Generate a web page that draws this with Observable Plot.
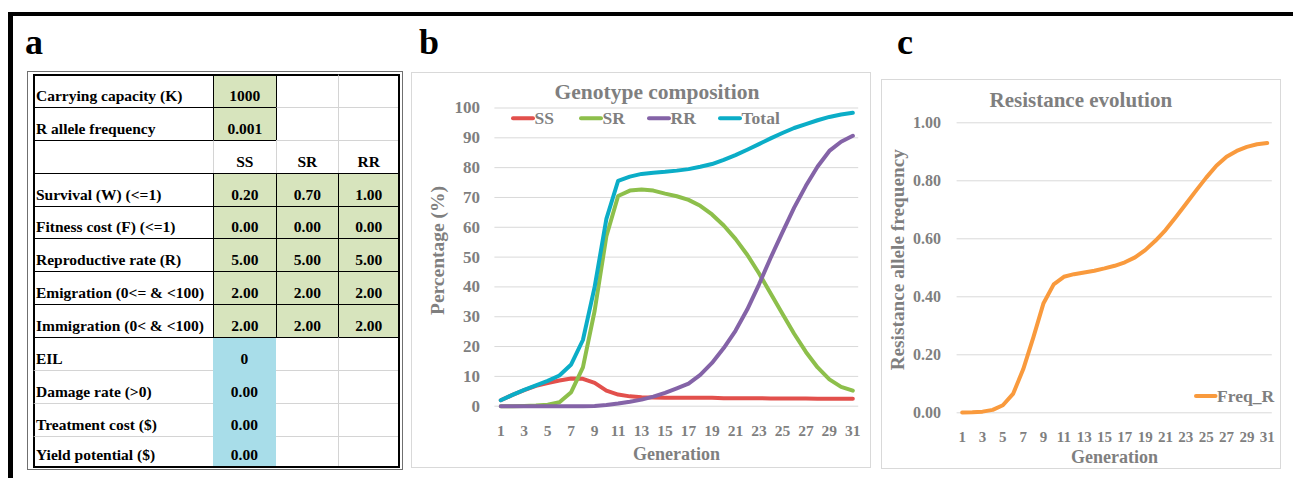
<!DOCTYPE html>
<html><head><meta charset="utf-8">
<script src="https://cdn.jsdelivr.net/npm/d3@7"></script>
<script src="https://cdn.jsdelivr.net/npm/@observablehq/plot@0.6"></script>
<style>
html,body{margin:0;padding:0;background:#fff;}
#root{position:relative;width:1293px;height:478px;overflow:hidden;font-family:"Liberation Serif","Times New Roman",serif;}
.cell{box-sizing:border-box;display:flex;align-items:flex-end;font-weight:bold;font-size:15.5px;color:#000;padding-bottom:2px;white-space:nowrap;overflow:hidden;}
</style></head><body><div id="root"></div>
<script>
// ---------- data ----------
const generations = d3.range(1, 32);
const SS = [2.0, 3.8, 5.4, 6.8, 7.8, 8.6, 9.3, 9.2, 7.8, 5.2, 3.9, 3.3, 3.0, 2.9, 2.8, 2.8, 2.8, 2.8, 2.8, 2.7, 2.7, 2.7, 2.7, 2.6, 2.6, 2.6, 2.6, 2.5, 2.5, 2.5, 2.5];
const SR = [0, 0, 0.1, 0.2, 0.5, 1.3, 4.7, 13.0, 32.0, 57.0, 70.5, 72.3, 72.7, 72.3, 71.3, 70.4, 69.2, 67.2, 64.3, 60.6, 56.1, 50.8, 44.6, 37.8, 31.0, 24.3, 18.2, 13.0, 9.0, 6.5, 5.2];
const RR = [0, 0, 0, 0, 0, 0, 0, 0, 0.1, 0.4, 0.9, 1.5, 2.2, 3.2, 4.5, 6.0, 7.6, 10.5, 14.5, 19.5, 25.3, 32.4, 40.8, 49.8, 58.3, 66.6, 73.9, 80.4, 85.6, 88.7, 90.7];
const Total = [2.0, 3.8, 5.5, 7.0, 8.5, 10.3, 14.0, 22.2, 40.0, 62.8, 75.6, 77.0, 77.9, 78.3, 78.6, 79.0, 79.5, 80.3, 81.2, 82.6, 84.2, 86.0, 87.9, 89.8, 91.6, 93.3, 94.6, 95.9, 97.0, 97.8, 98.4];
const freqR = [0.001, 0.002, 0.004, 0.010, 0.026, 0.065, 0.150, 0.260, 0.378, 0.443, 0.469, 0.478, 0.484, 0.490, 0.498, 0.507, 0.519, 0.536, 0.561, 0.593, 0.630, 0.674, 0.720, 0.766, 0.811, 0.852, 0.883, 0.903, 0.917, 0.926, 0.930];

const seriesNames = ["SS", "SR", "RR", "Total"];
const seriesValues = [SS, SR, RR, Total];
const seriesColors = ["#e2504c", "#8dbf4b", "#8463a7", "#0badc7"];
const freqName = "Freq_R";
const freqColor = "#f99a3d";

const percentTicks = [0, 10, 20, 30, 40, 50, 60, 70, 80, 90, 100];
const freqTicks = [0, 0.2, 0.4, 0.6, 0.8, 1.0];
const genTicks = [1, 3, 5, 7, 9, 11, 13, 15, 17, 19, 21, 23, 25, 27, 29, 31];

const tableLabels = ["Carrying capacity (K)", "R allele frequency", "", "Survival (W) (<=1)", "Fitness cost (F) (<=1)", "Reproductive rate (R)", "Emigration (0<= & <100)", "Immigration (0< & <100)", "EIL", "Damage rate (>0)", "Treatment cost ($)", "Yield potential ($)"];
const tableValues = [["1000", "", ""], ["0.001", "", ""], ["SS", "SR", "RR"], ["0.20", "0.70", "1.00"], ["0.00", "0.00", "0.00"], ["5.00", "5.00", "5.00"], ["2.00", "2.00", "2.00"], ["2.00", "2.00", "2.00"], ["0", "", ""], ["0.00", "", ""], ["0.00", "", ""], ["0.00", "", ""]];
const rowKinds = ["single", "single", "header", "triple", "triple", "triple", "triple", "triple", "econ", "econ", "econ", "econ"];

// ---------- layout ----------
const root = document.getElementById("root");
const FONT = '"Liberation Serif","Times New Roman",serif';
const GRAY = "#7f7f7f";

function div(style) { const d = document.createElement("div"); d.setAttribute("style", "position:absolute;" + style); root.appendChild(d); return d; }

// outer black frame
div("left:7.5px;top:12px;width:1300px;height:480px;border-top:4px solid #000;border-left:5px solid #000;");

// ---------- panel a: table ----------
div("left:27px;top:70.5px;width:373.5px;height:397.5px;border:1px solid #707070;");
const colW = [180, 62.7, 62.3, 60.5];
const grid = div(`left:33px;top:74px;display:grid;grid-template-columns:${colW.map(w => w + "px").join(" ")};grid-template-rows:repeat(11,32.9px) 30.6px;border-right:2px solid #000;border-bottom:2px solid #000;`);
function fillOf(r, c) {
  const k = rowKinds[r];
  if (c === 0) return null;
  if (k === "single") return c === 1 ? "#d7e4bd" : null;
  if (k === "triple") return "#d7e4bd";
  if (k === "econ") return c === 1 ? "#a8dde9" : null;
  return null;
}
function boxed(r, c) {
  if (r < 0 || c < 0) return false;
  const k = rowKinds[r];
  if (k === "triple") return true;
  if (k === "single") return c <= 1;
  return false;
}
function isBlue(r, c) { return r >= 0 && rowKinds[r] === "econ" && c === 1; }
function edge(aR, aC, bR, bC) {
  if (boxed(aR, aC) || boxed(bR, bC)) return "1px solid #000";
  if (isBlue(aR, aC) || isBlue(bR, bC)) return "none";
  return "1px solid #d4d4d4";
}
for (let r = 0; r < tableLabels.length; r++) {
  for (let c = 0; c < 4; c++) {
    const d = document.createElement("div");
    d.className = "cell";
    d.style.borderTop = r === 0 ? "2px solid #000" : edge(r - 1, c, r, c);
    d.style.borderLeft = c === 0 ? "2px solid #000" : edge(r, c - 1, r, c);
    const bg = fillOf(r, c);
    if (bg) d.style.background = bg;
    if (c === 0) { d.style.justifyContent = "flex-start"; d.style.paddingLeft = "1px"; d.textContent = tableLabels[r]; }
    else { d.style.justifyContent = "center"; d.textContent = tableValues[r][c - 1]; }
    grid.appendChild(d);
  }
}

// ---------- panel b ----------
const frameB = div("left:411px;top:72px;width:460px;height:396px;box-sizing:border-box;border:1px solid #d9d9d9;");
const compRows = seriesNames.flatMap((s, i) => generations.map((g, j) => ({generation: g, series: s, value: seriesValues[i][j]})));
const chartB = Plot.plot({
  width: 458, height: 394,
  marginLeft: 82.4, marginRight: 11.8, marginTop: 34.5, marginBottom: 61.3,
  x: {type: "linear", domain: [0.5, 31.5]},
  y: {type: "linear", domain: [0, 100]},
  color: {domain: seriesNames, range: seriesColors},
  style: {fontFamily: FONT, fontWeight: "bold", color: GRAY, background: "none", overflow: "visible"},
  marks: [
    Plot.gridY(percentTicks, {stroke: "#d9d9d9", strokeOpacity: 1, strokeWidth: 1}),
    Plot.axisY(percentTicks, {tickSize: 0, tickPadding: 15, fontSize: 17, label: null}),
    Plot.axisX(genTicks, {tickSize: 0, tickPadding: 19, fontSize: 15.5, label: null}),
    Plot.line(compRows, {x: "generation", y: "value", z: "series", stroke: "series", strokeWidth: 4, strokeLinejoin: "round", strokeLinecap: "round"})
  ]
});
chartB.style.position = "absolute"; chartB.style.left = "0px"; chartB.style.top = "0px";
frameB.appendChild(chartB);

// ---------- panel c ----------
const frameC = div("left:881px;top:79px;width:400px;height:390px;box-sizing:border-box;border:1px solid #d9d9d9;");
const freqRows = generations.map((g, i) => ({generation: g, value: freqR[i]}));
const chartC = Plot.plot({
  width: 398, height: 388,
  marginLeft: 74.6, marginRight: 8.2, marginTop: 42.3, marginBottom: 55.7,
  x: {type: "linear", domain: [0.5, 31.5]},
  y: {type: "linear", domain: [0, 1]},
  style: {fontFamily: FONT, fontWeight: "bold", color: GRAY, background: "none", overflow: "visible"},
  marks: [
    Plot.gridY(freqTicks, {stroke: "#d9d9d9", strokeOpacity: 1, strokeWidth: 1}),
    Plot.axisY(freqTicks, {tickSize: 0, tickPadding: 16, fontSize: 16, label: null, tickFormat: d3.format(".2f")}),
    Plot.axisX(genTicks, {tickSize: 0, tickPadding: 18.5, fontSize: 15, label: null}),
    Plot.line(freqRows, {x: "generation", y: "value", stroke: freqColor, strokeWidth: 4, strokeLinejoin: "round", strokeLinecap: "round"})
  ]
});
chartC.style.position = "absolute"; chartC.style.left = "0px"; chartC.style.top = "0px";
frameC.appendChild(chartC);

// ---------- overlay texts & legends ----------
const NS = "http://www.w3.org/2000/svg";
const ov = document.createElementNS(NS, "svg");
ov.setAttribute("width", 1293); ov.setAttribute("height", 478);
ov.setAttribute("style", "position:absolute;left:0;top:0;pointer-events:none;");
root.appendChild(ov);
function t(x, y, s, size, opts = {}) {
  const e = document.createElementNS(NS, "text");
  e.setAttribute("x", x); e.setAttribute("y", y);
  e.setAttribute("font-family", FONT); e.setAttribute("font-weight", "bold");
  e.setAttribute("font-size", size);
  e.setAttribute("fill", opts.fill || GRAY);
  e.setAttribute("text-anchor", opts.anchor || "start");
  if (opts.rotate) e.setAttribute("transform", `rotate(${opts.rotate} ${x} ${y})`);
  e.textContent = s; ov.appendChild(e); return e;
}
function l(x1, x2, y, color) {
  const e = document.createElementNS(NS, "line");
  e.setAttribute("x1", x1); e.setAttribute("x2", x2); e.setAttribute("y1", y); e.setAttribute("y2", y);
  e.setAttribute("stroke", color); e.setAttribute("stroke-width", 4); e.setAttribute("stroke-linecap", "round");
  ov.appendChild(e);
}
// panel letters
t(25, 54, "a", 36, {fill: "#000"});
t(419, 54, "b", 36, {fill: "#000"});
t(897, 54, "c", 36, {fill: "#000"});
// panel b titles
t(657, 98.5, "Genotype composition", 21.5, {anchor: "middle"});
t(444, 250.5, "Percentage (%)", 19.5, {anchor: "middle", rotate: -90});
t(676.5, 460, "Generation", 18, {anchor: "middle"});
// legend b
const legendX = [513, 581, 649, 720];
seriesNames.forEach((s, i) => {
  l(legendX[i], legendX[i] + 20, 118.3, seriesColors[i]);
  t(legendX[i] + 21.5, 124, s, 17.5);
});
// panel c titles
t(1080.8, 107.3, "Resistance evolution", 21, {anchor: "middle"});
t(904.5, 259.7, "Resistance allele frequency", 19.3, {anchor: "middle", rotate: -90});
t(1114.5, 463.3, "Generation", 18, {anchor: "middle"});
l(1196, 1215.5, 396, freqColor);
t(1217, 401.7, freqName, 17.5);
</script></body></html>
